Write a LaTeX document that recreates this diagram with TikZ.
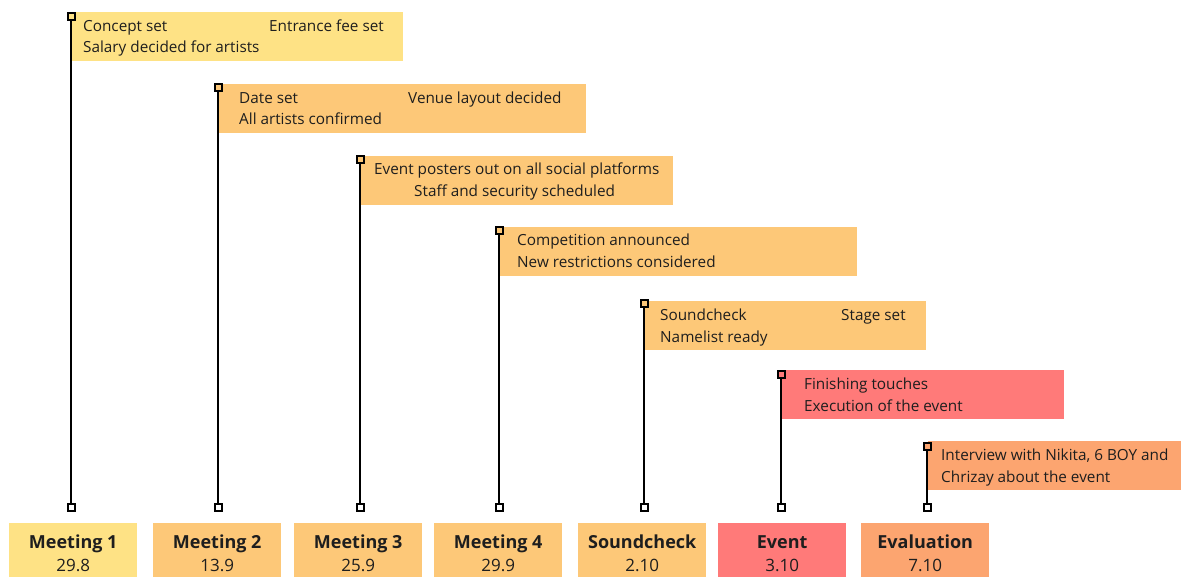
\documentclass[tikz,border=0pt]{standalone}
\usepackage{fontspec}
\setmainfont{Open Sans}
\definecolor{cyel}{HTML}{FEE285}
\definecolor{corg}{HTML}{FDC878}
\definecolor{cred}{HTML}{FF7A79}
\definecolor{cpeach}{HTML}{FCA570}
\definecolor{ink}{HTML}{1E1E1E}

\begin{document}
\begin{tikzpicture}[x=1pt,y=-1pt,
  labelbox/.style={fill=#1, draw=none, inner sep=0pt, anchor=north west, minimum height=49pt},
  datebox/.style={fill=#1, draw=none, inner sep=0pt, anchor=north west, minimum width=128pt, minimum height=60pt},
  note/.style={anchor=base west, inner sep=0pt, text=ink, font=\fontsize{15.3}{18}\selectfont},
  title/.style={anchor=base, inner sep=0pt, text=ink, font=\fontsize{18}{21}\selectfont\bfseries},
  day/.style={anchor=base, inner sep=0pt, text=ink, font=\fontsize{17}{20}\selectfont},
  pin/.style={draw=black, line width=2pt, fill=#1, minimum size=7pt, inner sep=0pt, shape=rectangle},
  stem/.style={draw=black, line width=2pt}]
\useasboundingbox (0,0) rectangle (1186,577);

% milestone label boxes
\node[labelbox=cyel,   minimum width=331pt] (b1) at (72,12)  {};
\node[labelbox=corg,   minimum width=367pt] (b2) at (219,84) {};
\node[labelbox=corg,   minimum width=312pt] (b3) at (361,156) {};
\node[labelbox=corg,   minimum width=357pt] (b4) at (500,227) {};
\node[labelbox=corg,   minimum width=281pt] (b5) at (645,301) {};
\node[labelbox=cred,   minimum width=282pt] (b6) at (782,370) {};
\node[labelbox=cpeach, minimum width=253pt] (b7) at (928,441) {};

% date boxes along the bottom
\node[datebox=cyel]   (d1) at (9,523)   {};
\node[datebox=corg]   (d2) at (153,523) {};
\node[datebox=corg]   (d3) at (294,523) {};
\node[datebox=corg]   (d4) at (434,523) {};
\node[datebox=corg]   (d5) at (578,523) {};
\node[datebox=cred]   (d6) at (718,523) {};
\node[datebox=cpeach] (d7) at (861,523) {};

% pins: lower end above each date box, upper end at each label box
\node[pin=white]  (p1) at (71,507)  {};
\node[pin=white]  (p2) at (218,507) {};
\node[pin=white]  (p3) at (360,507) {};
\node[pin=white]  (p4) at (499,507) {};
\node[pin=white]  (p5) at (644,507) {};
\node[pin=white]  (p6) at (781,507) {};
\node[pin=white]  (p7) at (927,507) {};
\node[pin=cyel]   (q1) at (71,17)   {};
\node[pin=corg]   (q2) at (218,88)  {};
\node[pin=corg]   (q3) at (360,160) {};
\node[pin=corg]   (q4) at (499,231) {};
\node[pin=corg]   (q5) at (644,304) {};
\node[pin=cred]   (q6) at (781,374) {};
\node[pin=cpeach] (q7) at (927,446) {};

\foreach \i in {1,...,7} {
  \draw[stem] (p\i.north) -- (q\i.south);
}

% label texts
\node[note] (t1a) at (83,32)  {Concept set};
\node[note] (t1b) at (269,32) {Entrance fee set};
\node[note] (t1c) at (83,53)  {Salary decided for artists};

\node[note] (t2a) at (239,104) {Date set};
\node[note] (t2b) at (408,104) {Venue layout decided};
\node[note] (t2c) at (239,125) {All artists confirmed};

\node[note] (t3a) at (374,175) {Event posters out on all social platforms};
\node[note] (t3b) at (414,197) {Staff and security scheduled};

\node[note] (t4a) at (517,246) {Competition announced};
\node[note] (t4b) at (517,268) {New restrictions considered};

\node[note] (t5a) at (660,320) {Soundcheck};
\node[note] (t5b) at (841,320) {Stage set};
\node[note] (t5c) at (660,342) {Namelist ready};

\node[note] (t6a) at (804,389) {Finishing touches};
\node[note] (t6b) at (804,411) {Execution of the event};

\node[note] (t7a) at (941,460) {Interview with Nikita, 6 BOY and};
\node[note] (t7b) at (941,482) {Chrizay about the event};

% date box texts
\foreach \n/\name/\dt in {1/Meeting 1/29.8, 2/Meeting 2/13.9, 3/Meeting 3/25.9, 4/Meeting 4/29.9,
                          5/Soundcheck/2.10, 6/Event/3.10, 7/Evaluation/7.10} {
  \node[title] (n\n) at ([yshift=-25pt]d\n.north) {\name};
  \node[day]   (s\n) at ([yshift=-48pt]d\n.north) {\dt};
}
\end{tikzpicture}
\end{document}
